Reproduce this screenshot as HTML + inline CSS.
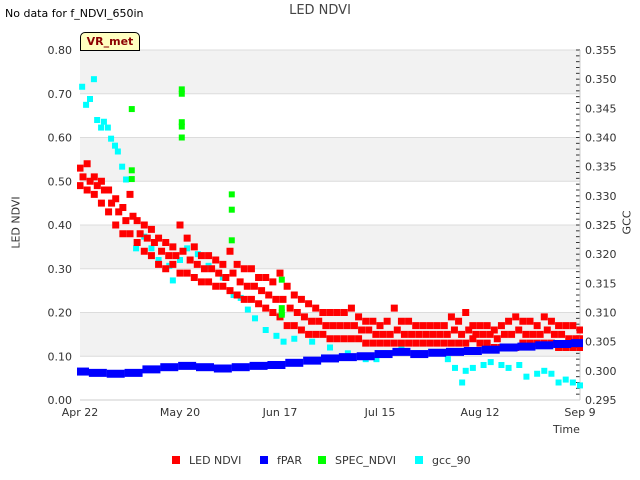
<!DOCTYPE html>
<html><head><meta charset="utf-8"><style>
body{margin:0;background:#fff;font-family:"Liberation Sans","DejaVu Sans",sans-serif}
svg{display:block}
text{font-family:"DejaVu Sans","Liberation Sans",sans-serif}
</style></head><body>
<svg id="c" width="640" height="480" viewBox="0 0 640 480"><defs><clipPath id="pc"><rect x="77" y="45" width="506" height="360"/></clipPath></defs><g id="bg"></g><g id="g" clip-path="url(#pc)"></g></svg>
<script>
const redDays=[0,2,4,6,8,10,12,14,16,18,20,22,24,26,28,30,32,34,36,38,40,42,44,46,48,50,52,54,56,58,60,62,64,66,68,70,72,74,76,78,80,82,84,86,88,90,92,94,96,98,100,102,104,106,108,110,112,114,116,118,120,122,124,126,128,130,132,134,136,138,140];
const redHi=[0.53,0.54,0.51,0.50,0.48,0.46,0.44,0.47,0.41,0.40,0.39,0.37,0.36,0.35,0.40,0.37,0.35,0.33,0.33,0.32,0.31,0.34,0.31,0.30,0.30,0.28,0.28,0.27,0.29,0.26,0.24,0.23,0.22,0.21,0.20,0.20,0.20,0.20,0.21,0.19,0.18,0.18,0.17,0.18,0.21,0.18,0.18,0.17,0.17,0.17,0.17,0.17,0.19,0.18,0.20,0.17,0.17,0.17,0.16,0.17,0.18,0.19,0.18,0.18,0.17,0.19,0.18,0.17,0.17,0.17,0.16];
const redMid=[0.51,0.50,0.49,0.48,0.45,0.43,0.41,0.42,0.38,0.37,0.36,0.34,0.33,0.33,0.34,0.32,0.31,0.30,0.30,0.29,0.28,0.29,0.27,0.26,0.26,0.25,0.24,0.23,0.23,0.21,0.20,0.19,0.18,0.18,0.17,0.17,0.17,0.17,0.17,0.16,0.16,0.15,0.15,0.15,0.16,0.15,0.15,0.15,0.15,0.15,0.15,0.15,0.16,0.15,0.16,0.15,0.15,0.15,0.14,0.15,0.15,0.16,0.15,0.15,0.15,0.16,0.15,0.15,0.14,0.14,0.14];
const redLo=[0.49,0.48,0.47,0.45,0.43,0.40,0.38,0.38,0.36,0.34,0.33,0.31,0.30,0.31,0.29,0.29,0.28,0.27,0.27,0.26,0.26,0.25,0.24,0.23,0.23,0.22,0.21,0.20,0.19,0.17,0.17,0.16,0.15,0.15,0.15,0.14,0.14,0.14,0.14,0.14,0.13,0.13,0.13,0.13,0.13,0.13,0.13,0.13,0.13,0.13,0.13,0.13,0.13,0.13,0.13,0.14,0.13,0.13,0.12,0.12,0.12,0.12,0.13,0.13,0.13,0.13,0.13,0.12,0.12,0.12,0.12];
const blueDays=[0,5,10,15,20,25,30,35,40,45,50,55,60,65,70,75,80,85,90,95,100,105,110,115,120,125,130,135,140];
const blueVals=[0.065,0.062,0.06,0.062,0.07,0.075,0.078,0.075,0.072,0.075,0.078,0.08,0.085,0.09,0.095,0.098,0.10,0.105,0.11,0.105,0.108,0.11,0.112,0.115,0.12,0.122,0.125,0.128,0.13];
const greenDays=[14.5,14.5,14.5,28.5,28.5,28.5,28.5,28.5,42.5,42.5,42.5,56.5,56.5,56.5,56.5];
const greenVals=[0.665,0.525,0.505,0.71,0.70,0.635,0.625,0.60,0.47,0.435,0.365,0.275,0.21,0.20,0.195];
const gccDays=[0.6,1.7,2.8,3.9,4.8,5.9,6.7,7.8,8.7,9.8,10.6,11.8,12.9,15.7,18,20,22,25,26,28,30,33,36,40,43,45,47,49,52,55,57,60,65,70,75,80,83,85,90,95,100,103,105,107,108,110,113,115,118,120,123,125,128,130,132,134,136,138,140];
const gccVals=[0.3487,0.3456,0.3466,0.350,0.343,0.3417,0.3427,0.3417,0.3398,0.3386,0.3376,0.335,0.3328,0.321,0.323,0.321,0.319,0.318,0.3155,0.319,0.321,0.320,0.318,0.316,0.313,0.3125,0.3105,0.309,0.307,0.306,0.305,0.3055,0.305,0.304,0.303,0.302,0.302,0.303,0.304,0.303,0.303,0.302,0.3005,0.298,0.300,0.3005,0.301,0.3015,0.301,0.3005,0.301,0.299,0.2995,0.300,0.2995,0.298,0.2985,0.298,0.2975];
const yTicks=[0,0.1,0.2,0.3,0.4,0.5,0.6,0.7,0.8];
const y2Ticks=[0.295,0.300,0.305,0.310,0.315,0.320,0.325,0.330,0.335,0.340,0.345,0.350,0.355];
const xTickDays=[0,28,56,84,112,140];
const xTickLabels=["Apr 22","May 20","Jun 17","Jul 15","Aug 12","Sep 9"];

const L=80,R=580,T=50,B=400;
const X=d=>L+d/140*(R-L);
const Y=v=>B-v/0.8*(B-T);
const Y2=v=>B-(v-0.295)/0.06*(B-T);
const svg=document.getElementById('c');
const bg=document.getElementById('bg');
const grp=document.getElementById('g');
const NS='http://www.w3.org/2000/svg';
function el(tag,attrs,txt,parent){const e=document.createElementNS(NS,tag);for(const k in attrs)e.setAttribute(k,attrs[k]);if(txt!==undefined)e.textContent=txt;(parent||bg).appendChild(e);return e;}

for(let i=0;i<4;i++){const v=0.1+i*0.2;const b=el('rect',{x:L,y:Y(v+0.1),width:R-L,height:Y(v)-Y(v+0.1),fill:'#f2f2f2'});

}
yTicks.forEach(v=>{const g=el('line',{x1:L,x2:R,y1:Y(v),y2:Y(v),stroke:'#dcdcdc'});


const t=el('text',{x:72,y:Y(v)+4,'text-anchor':'end','font-size':11,fill:'#333'},v.toFixed(2));

});
y2Ticks.forEach(v=>{const t=el('text',{x:585,y:Y2(v)+4,'font-size':11,fill:'#333'},v.toFixed(3));

});
for(let v=0.295;v<=0.3551;v+=0.001){const tk=el('line',{x1:R-4,x2:R,y1:Y2(v),y2:Y2(v),stroke:'#333'});

}
el('line',{x1:R,x2:R,y1:T,y2:B,stroke:'#ccc'});
el('line',{x1:L,x2:R,y1:B,y2:B,stroke:'#ccc'});
xTickDays.forEach((d,i)=>{const t=el('text',{x:X(d),y:416,'text-anchor':'middle','font-size':11,fill:'#333'},xTickLabels[i]);

});

function sq(x,y,c,s,name){const r=el('rect',{x:x-s/2,y:y-s/2,width:s,height:s,fill:c},undefined,grp);

}
gccDays.forEach((d,i)=>sq(X(d),Y2(gccVals[i]),'#00ffff',6,'gcc-point'));
redDays.forEach((d,i)=>{sq(X(d),Y(redHi[i]),'#ff0000',7,'led-ndvi-point');sq(X(d)+3,Y(redMid[i]),'#ff0000',7,'led-ndvi-point');sq(X(d),Y(redLo[i]),'#ff0000',7,'led-ndvi-point');});
blueDays.forEach((d,i)=>{const r=el('rect',{x:X(d)-9,y:Y(blueVals[i])-4,width:18,height:8,fill:'#0000ff'},undefined,grp);

});
greenDays.forEach((d,i)=>sq(X(d),Y(greenVals[i]),'#00ff00',6,'spec-ndvi-point'));
</script>
<div style="position:absolute;left:0;top:0;width:640px;height:480px;pointer-events:none;font-family:'DejaVu Sans','Liberation Sans',sans-serif;">
<div style="position:absolute;left:5px;top:7px;font-size:11px;color:#000">No data for f_NDVI_650in</div>
<div style="position:absolute;left:0;width:640px;top:3px;text-align:center;font-size:13px;color:#444">LED NDVI</div>
<div style="position:absolute;left:80px;top:32px;width:58px;height:17px;background:#ffffc0;border:1px solid #000;border-radius:5px 5px 0 0;font-size:11px;font-weight:bold;color:#8b0000;text-align:center;line-height:17px">VR_met</div>
<div style="position:absolute;left:-14px;top:216px;width:60px;text-align:center;transform:rotate(-90deg);font-size:11px;color:#333">LED NDVI</div>
<div style="position:absolute;left:607px;top:216px;width:40px;text-align:center;transform:rotate(-90deg);font-size:11px;color:#333">GCC</div>
<div style="position:absolute;left:553px;top:423px;font-size:11px;color:#333">Time</div>
<div style="position:absolute;top:454px;left:0;width:640px;font-size:11px;color:#333">
<span style="position:absolute;left:172px"><i style="display:inline-block;width:8px;height:8px;background:#f00;margin-right:9px"></i>LED NDVI</span>
<span style="position:absolute;left:260px"><i style="display:inline-block;width:8px;height:8px;background:#00f;margin-right:9px"></i>fPAR</span>
<span style="position:absolute;left:318px"><i style="display:inline-block;width:8px;height:8px;background:#0f0;margin-right:9px"></i>SPEC_NDVI</span>
<span style="position:absolute;left:415px"><i style="display:inline-block;width:8px;height:8px;background:#0ff;margin-right:9px"></i>gcc_90</span>
</div>
</div>
</body></html>
